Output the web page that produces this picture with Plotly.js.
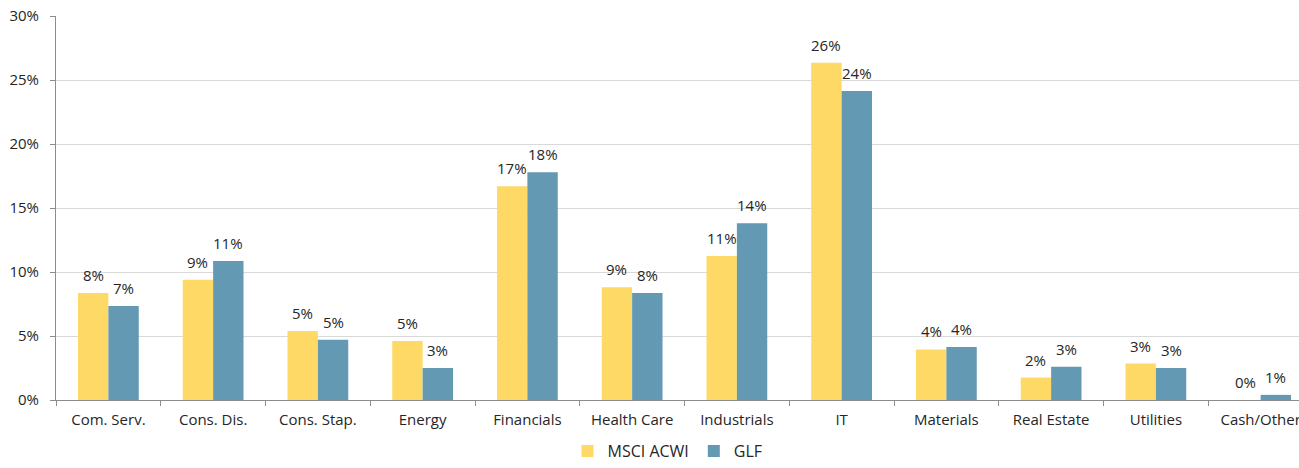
<!DOCTYPE html>
<html>
<head>
<meta charset="utf-8">
<script src="https://cdn.plot.ly/plotly-3.0.1.min.js"></script>
<style>
html,body{margin:0;padding:0;overflow:hidden;background:#fff;width:1299px;height:468px;}
#chart{width:1314px;height:468px;}
</style>
</head>
<body>
<div id="chart"></div>
<script>
const categories = ["Com. Serv.","Cons. Dis.","Cons. Stap.","Energy","Financials","Health Care","Industrials","IT","Materials","Real Estate","Utilities","Cash/Other"];
const msciValues = [8.35, 9.4, 5.4, 4.6, 16.7, 8.8, 11.25, 26.35, 3.95, 1.75, 2.85, 0];
const glfValues  = [7.35, 10.85, 4.7, 2.5, 17.8, 8.35, 13.8, 24.15, 4.15, 2.6, 2.5, 0.4];
const msciLabels = ["8%","9%","5%","5%","17%","9%","11%","26%","4%","2%","3%","0%"];
const glfLabels  = ["7%","11%","5%","3%","18%","8%","14%","24%","4%","3%","3%","1%"];
const yTickVals = [0,5,10,15,20,25,30];
const yTickText = ["0%","5%","10%","15%","20%","25%","30%"];

const textFont = {family: "Open Sans, Noto Sans, sans-serif", size: 15, color: "#262626"};
const legendFont = {family: "Open Sans, Noto Sans, sans-serif", size: 16, color: "#262626"};

const traces = [
  {type:"bar", name:"MSCI ACWI", x:categories, y:msciValues, marker:{color:"#FFD966"}, hoverinfo:"skip"},
  {type:"bar", name:"GLF", x:categories, y:glfValues, marker:{color:"#6399B2"}, hoverinfo:"skip"}
];

const annotations = [];
categories.forEach((c,i)=>{
  annotations.push({x:c, y:msciValues[i], xref:"x", yref:"y", text:msciLabels[i], showarrow:false, xshift:-15.2, yshift:18, yanchor:"middle", font:textFont});
  annotations.push({x:c, y:glfValues[i], xref:"x", yref:"y", text:glfLabels[i], showarrow:false, xshift:15.2, yshift:18, yanchor:"middle", font:textFont});
});

const layout = {
  width:1314, height:468,
  margin:{l:56, r:1, t:16, b:68, autoexpand:false},
  paper_bgcolor:"#fff", plot_bgcolor:"#fff",
  font:textFont,
  barmode:"group", bargap:0.42, bargroupgap:0,
  showlegend:true,
  legend:{orientation:"h", xref:"container", yref:"container", x:0.508, xanchor:"center", y:0, yanchor:"bottom", font:legendFont, traceorder:"normal", itemwidth:30},
  xaxis:{type:"category", tickson:"boundaries", ticks:"outside", ticklen:5, tickcolor:"#8c8c8c", ticklabelstandoff:6,
         showline:true, linecolor:"#8c8c8c", linewidth:1, showgrid:false, tickfont:textFont, fixedrange:true, automargin:false},
  yaxis:{range:[0,30], tickvals:yTickVals, ticktext:yTickText, ticks:"outside", ticklen:5, tickcolor:"#8c8c8c", ticklabelstandoff:8,
         showline:true, linecolor:"#8c8c8c", linewidth:1, showgrid:true, gridcolor:"#d9d9d9", gridwidth:1,
         zeroline:false, tickfont:textFont, fixedrange:true, automargin:false},
  annotations:annotations
};

Plotly.newPlot("chart", traces, layout, {displayModeBar:false, staticPlot:true});
</script>
</body>
</html>
